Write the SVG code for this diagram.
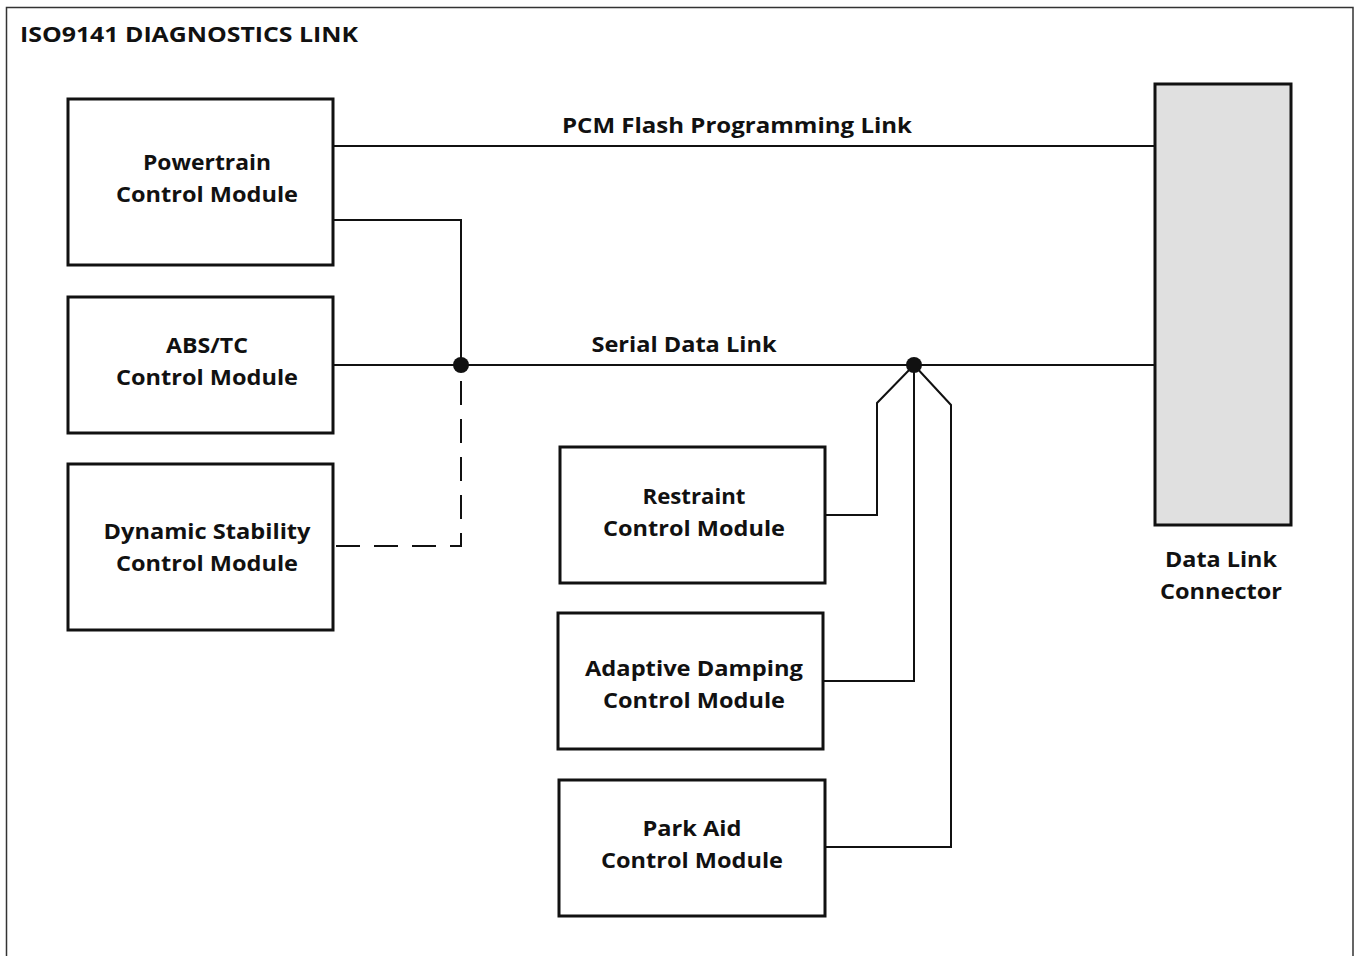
<svg xmlns="http://www.w3.org/2000/svg" width="1358" height="956" viewBox="0 0 1358 956">
<style>
text{font-family:"Open Sans","Lato","Liberation Sans",sans-serif;font-weight:bold;font-size:21px;fill:#111;text-anchor:middle}
.box{fill:#fff;stroke:#111;stroke-width:3}
.ln{fill:none;stroke:#111;stroke-width:2}
.dash{fill:none;stroke:#111;stroke-width:2;stroke-dasharray:24 14}
</style>
<rect x="0" y="0" width="1358" height="956" fill="#fff"/>
<path d="M6.5 960 V7.5 H1353 V960" fill="none" stroke="#333" stroke-width="1.5"/>
<text x="20" y="42" style="text-anchor:start" textLength="338" lengthAdjust="spacingAndGlyphs">ISO9141 DIAGNOSTICS LINK</text>
<g id="connectors">
<path class="ln" d="M333 146 H1155"/>
<text x="737" y="133" textLength="350" lengthAdjust="spacingAndGlyphs">PCM Flash Programming Link</text>
<path class="ln" d="M333 220 H461 V365"/>
<path class="ln" d="M333 365 H1155"/>
<text x="684" y="352" textLength="185" lengthAdjust="spacingAndGlyphs">Serial Data Link</text>
<path class="dash" d="M461 365 V546 H333" stroke-dashoffset="-16"/>
<path class="ln" d="M825 515 H877 V403 L914 365"/>
<path class="ln" d="M823 681 H914 V365"/>
<path class="ln" d="M825 847 H951 V405 L914 365"/>
<circle cx="461" cy="365" r="8" fill="#111"/>
<circle cx="914" cy="365" r="8" fill="#111"/>
</g>
<g id="pcm"><rect class="box" x="68" y="99" width="265" height="166"/><text x="207" y="170" textLength="128" lengthAdjust="spacingAndGlyphs">Powertrain</text><text x="207" y="202" textLength="182" lengthAdjust="spacingAndGlyphs">Control Module</text></g>
<g id="abs"><rect class="box" x="68" y="297" width="265" height="136"/><text x="207" y="353" textLength="82" lengthAdjust="spacingAndGlyphs">ABS/TC</text><text x="207" y="385" textLength="182" lengthAdjust="spacingAndGlyphs">Control Module</text></g>
<g id="dsc"><rect class="box" x="68" y="464" width="265" height="166"/><text x="207" y="539" textLength="207" lengthAdjust="spacingAndGlyphs">Dynamic Stability</text><text x="207" y="571" textLength="182" lengthAdjust="spacingAndGlyphs">Control Module</text></g>
<g id="rcm"><rect class="box" x="560" y="447" width="265" height="136"/><text x="694" y="504" textLength="103" lengthAdjust="spacingAndGlyphs">Restraint</text><text x="694" y="536" textLength="182" lengthAdjust="spacingAndGlyphs">Control Module</text></g>
<g id="adcm"><rect class="box" x="558" y="613" width="265" height="136"/><text x="694" y="676" textLength="218" lengthAdjust="spacingAndGlyphs">Adaptive Damping</text><text x="694" y="708" textLength="182" lengthAdjust="spacingAndGlyphs">Control Module</text></g>
<g id="pacm"><rect class="box" x="559" y="780" width="266" height="136"/><text x="692" y="836" textLength="99" lengthAdjust="spacingAndGlyphs">Park Aid</text><text x="692" y="868" textLength="182" lengthAdjust="spacingAndGlyphs">Control Module</text></g>
<g id="dlc"><rect x="1155" y="84" width="136" height="441" fill="#e0e0e0" stroke="#111" stroke-width="3"/><text x="1221" y="567" textLength="112" lengthAdjust="spacingAndGlyphs">Data Link</text><text x="1221" y="599" textLength="122" lengthAdjust="spacingAndGlyphs">Connector</text></g>
</svg>
